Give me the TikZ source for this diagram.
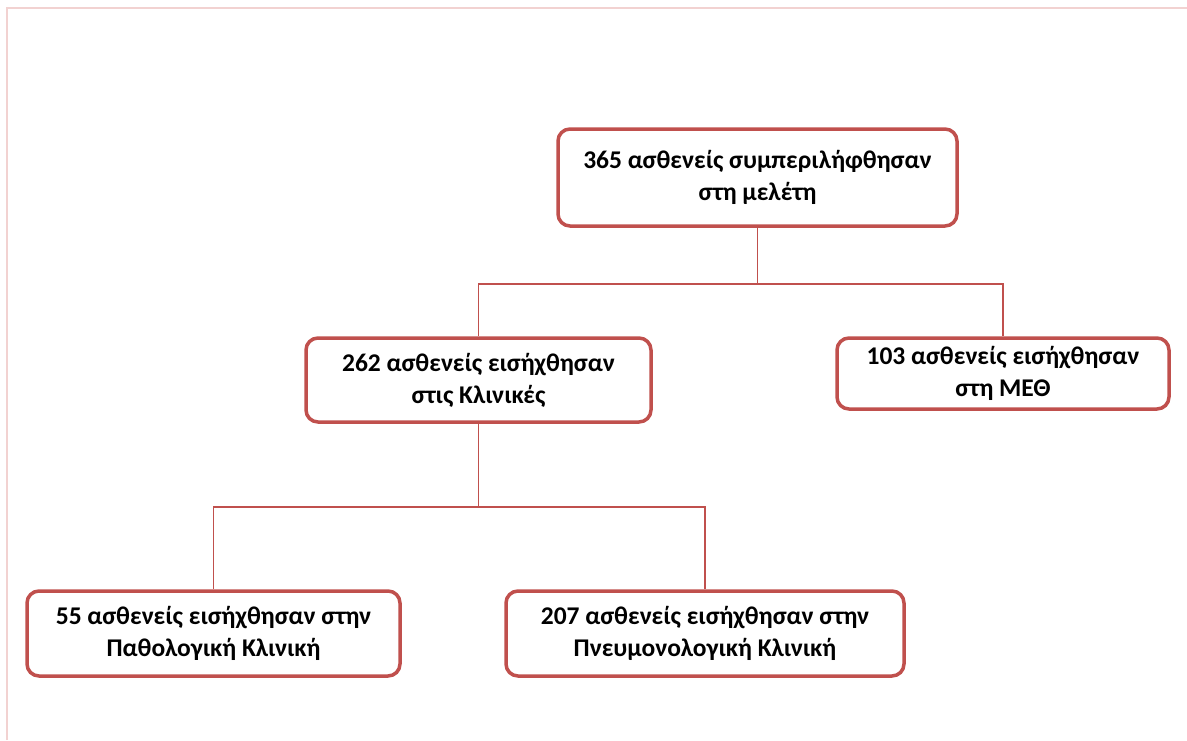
\documentclass[tikz,border=0pt]{standalone}
\usepackage{fontspec}
\setmainfont{Carlito}
\begin{document}
\begin{tikzpicture}[x=1pt,y=-1pt,
  box/.style={draw=boxred, line width=3.5pt, rounded corners=12pt, fill=white,
    align=center, font=\bfseries\fontsize{25.5}{32}\selectfont, inner sep=0pt},
  link/.style={draw=boxred, line width=1.5pt}]
\definecolor{boxred}{HTML}{C0504D}
\definecolor{framepink}{HTML}{F2D2D1}
\useasboundingbox (0,0) rectangle (1187,740);
% page frame
\draw[framepink, line width=2pt] (7,740) -- (7,8) -- (1187,8);
% boxes
\node[box, minimum width=399pt, minimum height=97pt] (all) at (757.5,177.5)
  {365 ασθενείς συμπεριλήφθησαν\\στη μελέτη};
\node[box, minimum width=345pt, minimum height=84pt] (clin) at (478.5,380)
  {262 ασθενείς εισήχθησαν\\στις Κλινικές};
\node[box, minimum width=332pt, minimum height=71pt] (icu) at (1003,373.5)
  {103 ασθενείς εισήχθησαν\\στη ΜΕΘ};
\node[box, minimum width=373pt, minimum height=85pt] (path) at (213.5,633.5)
  {55 ασθενείς εισήχθησαν στην\\Παθολογική Κλινική};
\node[box, minimum width=398pt, minimum height=85pt] (pneu) at (705,633.5)
  {207 ασθενείς εισήχθησαν στην\\Πνευμονολογική Κλινική};
% connectors
\coordinate (j1) at (757.5,284);
\coordinate (j2) at (478.5,507);
\draw[link] (all.south) -- (j1);
\draw[link] (j1) -| (clin.north);
\draw[link] (j1) -| (icu.north);
\draw[link] (clin.south) -- (j2);
\draw[link] (j2) -| (path.north);
\draw[link] (j2) -| (pneu.north);
\end{tikzpicture}
\end{document}
